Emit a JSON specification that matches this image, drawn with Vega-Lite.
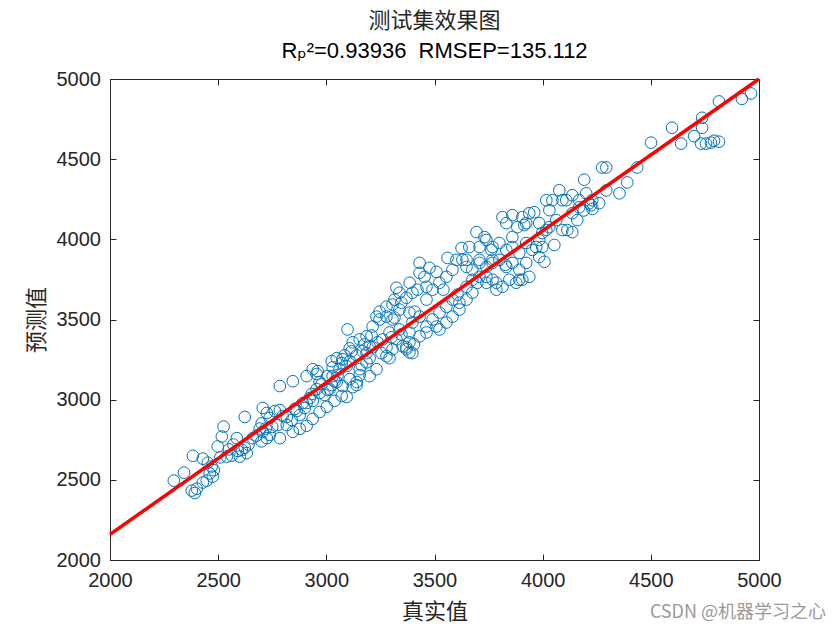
{
  "$schema": "https://vega.github.io/schema/vega-lite/v6.json",
  "width": 649,
  "height": 481,
  "autosize": {"type": "none"},
  "padding": {"left": 110, "top": 79, "right": 81, "bottom": 70},
  "background": "white",
  "config": {
    "view": {"stroke": "#262626", "strokeWidth": 1}
  },
  "title": {
    "text": "测试集效果图",
    "subtitle": "Rₚ²=0.93936\u00a0\u00a0RMSEP=135.112",
    "font": "Noto Sans CJK SC",
    "fontSize": 22,
    "fontWeight": "normal",
    "color": "#262626",
    "subtitleFont": "Liberation Sans, DejaVu Sans",
    "subtitleFontSize": 22,
    "subtitleColor": "#000000",
    "anchor": "middle",
    "offset": 6,
    "subtitlePadding": 8
  },
  "datasets": {
    "pts": [
      {"actual":2295,"predicted":2495},{"actual":2342,"predicted":2545},{"actual":2383,"predicted":2650},{"actual":2378,"predicted":2433},{"actual":2401,"predicted":2445},{"actual":2392,"predicted":2418},{"actual":2429,"predicted":2632},{"actual":2452,"predicted":2607},{"actual":2461,"predicted":2540},{"actual":2447,"predicted":2495},{"actual":2475,"predicted":2520},{"actual":2429,"predicted":2483},{"actual":2470,"predicted":2583},{"actual":2498,"predicted":2708},{"actual":2517,"predicted":2770},{"actual":2525,"predicted":2832},{"actual":2540,"predicted":2645},{"actual":2563,"predicted":2651},{"actual":2586,"predicted":2760},{"actual":2591,"predicted":2680},{"actual":2609,"predicted":2687},{"actual":2623,"predicted":2700},{"actual":2632,"predicted":2667},{"actual":2600,"predicted":2645},{"actual":2623,"predicted":2892},{"actual":2692,"predicted":2820},{"actual":2678,"predicted":2776},{"actual":2706,"predicted":2800},{"actual":2725,"predicted":2760},{"actual":2738,"predicted":2780},{"actual":2701,"predicted":2852},
      {"actual":2480,"predicted":2560},{"actual":2510,"predicted":2640},{"actual":2550,"predicted":2690},{"actual":2570,"predicted":2720},{"actual":2640,"predicted":2720},{"actual":2660,"predicted":2760},{"actual":2700,"predicted":2740},{"actual":2720,"predicted":2820},{"actual":2750,"predicted":2830},
      {"actual":2785,"predicted":3085},{"actual":2845,"predicted":3115},{"actual":2937,"predicted":3190},{"actual":2960,"predicted":3178},{"actual":2955,"predicted":3160},{"actual":2706,"predicted":2948},{"actual":2725,"predicted":2917},{"actual":2738,"predicted":2886},{"actual":2762,"predicted":2929},{"actual":2785,"predicted":2935},{"actual":2798,"predicted":2898},{"actual":2775,"predicted":2842},{"actual":2817,"predicted":2842},{"actual":2840,"predicted":2873},{"actual":2863,"predicted":2929},{"actual":2877,"predicted":2904},{"actual":2900,"predicted":2948},{"actual":2909,"predicted":2979},{"actual":2923,"predicted":3010},{"actual":2937,"predicted":2992},{"actual":2969,"predicted":3041},{"actual":2992,"predicted":3029},{"actual":3006,"predicted":3060},{"actual":3025,"predicted":3091},{"actual":3038,"predicted":3115},{"actual":3052,"predicted":3153},{"actual":3025,"predicted":3240},{"actual":3048,"predicted":3259},{"actual":3071,"predicted":3228},{"actual":3085,"predicted":3277},{"actual":3108,"predicted":3240},{"actual":3108,"predicted":3128},{"actual":3122,"predicted":3078},{"actual":3140,"predicted":3091},{"actual":3154,"predicted":3153},{"actual":3163,"predicted":3215},{"actual":3186,"predicted":3290},{"actual":3200,"predicted":3259},{"actual":3214,"predicted":3327},{"actual":3237,"predicted":3358},{"actual":3255,"predicted":3290},{"actual":3278,"predicted":3327},{"actual":3292,"predicted":3259},{"actual":3301,"predicted":3389},{"actual":3324,"predicted":3376},{"actual":3347,"predicted":3407},{"actual":3370,"predicted":3327},{"actual":3384,"predicted":3358},{"actual":3398,"predicted":3290},{"actual":3098,"predicted":3438},{"actual":2785,"predicted":2760},{"actual":2845,"predicted":2800},{"actual":2877,"predicted":2818},{"actual":2909,"predicted":2837},{"actual":2937,"predicted":2880},{"actual":2969,"predicted":2923},{"actual":3002,"predicted":2955},{"actual":3038,"predicted":2992},{"actual":3071,"predicted":3023},{"actual":3094,"predicted":3017},{"actual":3075,"predicted":3085},
      {"actual":3431,"predicted":3853},{"actual":3477,"predicted":3822},{"actual":3431,"predicted":3791},{"actual":3454,"predicted":3766},{"actual":3385,"predicted":3729},{"actual":3338,"predicted":3667},{"actual":3324,"predicted":3698},{"actual":3315,"predicted":3624},{"actual":3347,"predicted":3605},{"actual":3370,"predicted":3636},{"actual":3398,"predicted":3667},{"actual":3421,"predicted":3686},{"actual":3463,"predicted":3704},{"actual":3491,"predicted":3686},{"actual":3523,"predicted":3729},{"actual":3555,"predicted":3766},{"actual":3583,"predicted":3810},{"actual":3601,"predicted":3872},{"actual":3629,"predicted":3872},{"actual":3648,"predicted":3828},{"actual":3675,"predicted":3810},{"actual":3708,"predicted":3853},{"actual":3740,"predicted":3766},{"actual":3768,"predicted":3872},{"actual":3786,"predicted":3729},{"actual":3675,"predicted":3667},{"actual":3648,"predicted":3624},{"actual":3615,"predicted":3605},{"actual":3583,"predicted":3624},{"actual":3555,"predicted":3580},{"actual":3523,"predicted":3543},{"actual":3491,"predicted":3500},{"actual":3463,"predicted":3456},{"actual":3431,"predicted":3518},{"actual":3398,"predicted":3481},{"actual":3384,"predicted":3419},{"actual":3338,"predicted":3438},{"actual":3306,"predicted":3500},{"actual":3278,"predicted":3518},{"actual":3246,"predicted":3500},{"actual":3214,"predicted":3456},{"actual":3232,"predicted":3518},{"actual":3246,"predicted":3549},{"actual":3278,"predicted":3580},{"actual":3306,"predicted":3593},{"actual":3338,"predicted":3562},{"actual":3370,"predicted":3314},{"actual":3384,"predicted":3295},{"actual":3352,"predicted":3333},{"actual":3405,"predicted":3345},{"actual":3431,"predicted":3395},{"actual":3463,"predicted":3419},{"actual":3523,"predicted":3438},{"actual":3555,"predicted":3481},{"actual":3583,"predicted":3518},{"actual":3615,"predicted":3562},{"actual":3509,"predicted":3456},{"actual":3384,"predicted":3543},{"actual":3186,"predicted":3395},{"actual":3154,"predicted":3376},{"actual":3122,"predicted":3358},{"actual":3108,"predicted":3320},{"actual":3140,"predicted":3277},{"actual":3168,"predicted":3302},{"actual":3200,"predicted":3333},{"actual":3260,"predicted":3376},{"actual":3292,"predicted":3419},{"actual":3186,"predicted":3233},{"actual":3154,"predicted":3190},{"actual":3094,"predicted":3209},{"actual":3061,"predicted":3190},{"actual":3029,"predicted":3147},{"actual":3048,"predicted":3110},{"actual":3015,"predicted":3066},{"actual":2969,"predicted":3110},{"actual":2909,"predicted":3147},{"actual":2955,"predicted":3066},{"actual":3140,"predicted":3110},{"actual":3200,"predicted":3147},{"actual":3232,"predicted":3190},{"actual":3278,"predicted":3271},{"actual":3306,"predicted":3314},
      {"actual":3560,"predicted":3884},{"actual":3625,"predicted":3946},{"actual":3509,"predicted":3797},{"actual":3541,"predicted":3686},{"actual":3463,"predicted":3624},{"actual":3408,"predicted":3549},{"actual":3315,"predicted":3512},{"actual":3209,"predicted":3400},{"actual":3177,"predicted":3345},{"actual":3117,"predicted":3302},{"actual":3075,"predicted":3252},{"actual":3029,"predicted":3202},{"actual":3006,"predicted":3147},{"actual":2978,"predicted":3097},{"actual":2932,"predicted":3035},{"actual":2891,"predicted":2979},{"actual":2854,"predicted":2942},{"actual":2817,"predicted":2892},{"actual":3915,"predicted":4089},{"actual":3860,"predicted":4151},{"actual":3984,"predicted":3996},{"actual":4054,"predicted":3965},{"actual":4008,"predicted":3860},{"actual":3892,"predicted":3748},{"actual":3828,"predicted":3841},{"actual":3763,"predicted":3934},{"actual":3731,"predicted":4014},{"actual":3698,"predicted":3729},{"actual":3606,"predicted":3655},
      {"actual":3694,"predicted":4045},{"actual":3814,"predicted":4138},{"actual":3832,"predicted":4101},{"actual":3860,"predicted":4014},{"actual":3883,"predicted":4076},{"actual":3906,"predicted":4138},{"actual":3924,"predicted":4101},{"actual":3938,"predicted":4163},{"actual":3961,"predicted":4169},{"actual":3984,"predicted":4101},{"actual":3998,"predicted":4039},{"actual":4017,"predicted":4058},{"actual":4031,"predicted":4076},{"actual":4063,"predicted":4120},{"actual":4091,"predicted":4058},{"actual":4114,"predicted":4058},{"actual":4137,"predicted":4045},{"actual":4031,"predicted":4182},{"actual":4077,"predicted":4306},{"actual":4017,"predicted":4244},{"actual":4045,"predicted":4244},{"actual":4091,"predicted":4244},{"actual":4137,"predicted":4275},{"actual":4169,"predicted":4244},{"actual":4201,"predicted":4287},{"actual":4215,"predicted":4225},{"actual":4229,"predicted":4244},{"actual":4261,"predicted":4225},{"actual":4192,"predicted":4372},{"actual":4294,"predicted":4305},{"actual":4355,"predicted":4287},{"actual":3661,"predicted":3952},{"actual":3708,"predicted":3952},{"actual":3740,"predicted":3996},{"actual":3768,"predicted":3952},{"actual":3800,"predicted":3977},{"actual":3832,"predicted":3934},{"actual":3860,"predicted":3952},{"actual":3892,"predicted":3915},{"actual":3924,"predicted":3977},{"actual":3952,"predicted":3934},{"actual":3984,"predicted":3890},{"actual":3648,"predicted":3872},{"actual":3708,"predicted":3872},{"actual":3740,"predicted":3828},{"actual":3768,"predicted":3853},{"actual":3800,"predicted":3872},{"actual":3832,"predicted":3828},{"actual":3860,"predicted":3853},{"actual":3892,"predicted":3810},{"actual":3924,"predicted":3853},{"actual":3938,"predicted":3766},{"actual":3906,"predicted":3748},{"actual":3878,"predicted":3729},{"actual":3846,"predicted":3748},{"actual":3814,"predicted":3704},{"actual":3768,"predicted":3748},{"actual":3740,"predicted":3729},{"actual":3708,"predicted":3766},{"actual":3675,"predicted":3748},{"actual":3648,"predicted":3704},{"actual":3786,"predicted":3686},{"actual":3970,"predicted":3952},{"actual":3998,"predicted":3952},
      {"actual":4275,"predicted":4448},{"actual":4294,"predicted":4448},{"actual":4437,"predicted":4448},{"actual":4391,"predicted":4355},{"actual":4224,"predicted":4213},{"actual":4169,"predicted":4200},{"actual":4137,"predicted":4163},{"actual":4109,"predicted":4244},{"actual":4160,"predicted":4120},{"actual":4190,"predicted":4180},{"actual":4230,"predicted":4190},{"actual":4501,"predicted":4603},{"actual":4598,"predicted":4696},{"actual":4640,"predicted":4597},{"actual":4700,"predicted":4643},{"actual":4737,"predicted":4758},{"actual":4737,"predicted":4696},{"actual":4732,"predicted":4597},{"actual":4755,"predicted":4597},{"actual":4778,"predicted":4603},{"actual":4792,"predicted":4615},{"actual":4815,"predicted":4609},{"actual":4815,"predicted":4860},{"actual":4921,"predicted":4876},{"actual":4963,"predicted":4910}
    ]
  },
  "layer": [
    {
      "data": {"name": "pts"},
      "mark": {"type": "point", "shape": "circle", "filled": false, "size": 135, "strokeWidth": 1, "color": "#0072BD", "opacity": 1},
      "encoding": {
        "x": {
          "field": "actual", "type": "quantitative",
          "scale": {"domain": [2000, 5000], "nice": false, "zero": false},
          "axis": {
            "orient": "bottom", "values": [2000, 2500, 3000, 3500, 4000, 4500, 5000],
            "format": "d", "domain": false, "grid": false,
            "tickSize": -6, "tickColor": "#262626", "tickWidth": 1,
            "labelPadding": 16, "labelFont": "Liberation Sans", "labelFontSize": 20, "labelColor": "#262626",
            "labelFlush": false, "labelOverlap": false,
            "title": "真实值", "titleFont": "Noto Sans CJK SC", "titleFontSize": 22, "titleFontWeight": "normal",
            "titleColor": "#262626", "titlePadding": 11
          }
        },
        "y": {
          "field": "predicted", "type": "quantitative",
          "scale": {"domain": [2000, 5000], "nice": false, "zero": false},
          "axis": {
            "orient": "left", "values": [2000, 2500, 3000, 3500, 4000, 4500, 5000],
            "format": "d", "domain": false, "grid": false,
            "tickSize": -6, "tickColor": "#262626", "tickWidth": 1,
            "labelPadding": 15.5, "labelFont": "Liberation Sans", "labelFontSize": 20, "labelColor": "#262626",
            "labelFlush": false, "labelOverlap": false,
            "title": "预测值", "titleFont": "Noto Sans CJK SC", "titleFontSize": 22, "titleFontWeight": "normal",
            "titleColor": "#262626", "titlePadding": 8
          }
        }
      }
    },
    {
      "data": {"values": [{"actual": 2000, "predicted": 2160}, {"actual": 5000, "predicted": 5000}]},
      "mark": {"type": "line", "color": "#FF0000", "strokeWidth": 3.5},
      "encoding": {
        "x": {
          "field": "actual", "type": "quantitative",
          "axis": {"orient": "top", "values": [2000, 2500, 3000, 3500, 4000, 4500, 5000], "labels": false, "domain": false, "grid": false, "tickSize": -6, "tickColor": "#262626", "title": null}
        },
        "y": {
          "field": "predicted", "type": "quantitative",
          "axis": {"orient": "right", "values": [2000, 2500, 3000, 3500, 4000, 4500, 5000], "labels": false, "domain": false, "grid": false, "tickSize": -6, "tickColor": "#262626", "title": null}
        }
      }
    },
    {
      "data": {"values": [{"label": "CSDN @机器学习之心", "actual": 5310, "predicted": 1668}]},
      "mark": {"type": "text", "align": "right", "baseline": "middle", "font": "Noto Sans CJK SC", "fontSize": 18, "color": "#9a9a9a"},
      "encoding": {
        "x": {"field": "actual", "type": "quantitative", "axis": null},
        "y": {"field": "predicted", "type": "quantitative", "axis": null},
        "text": {"field": "label"}
      }
    }
  ],
  "resolve": {"axis": {"x": "independent", "y": "independent"}}
}
